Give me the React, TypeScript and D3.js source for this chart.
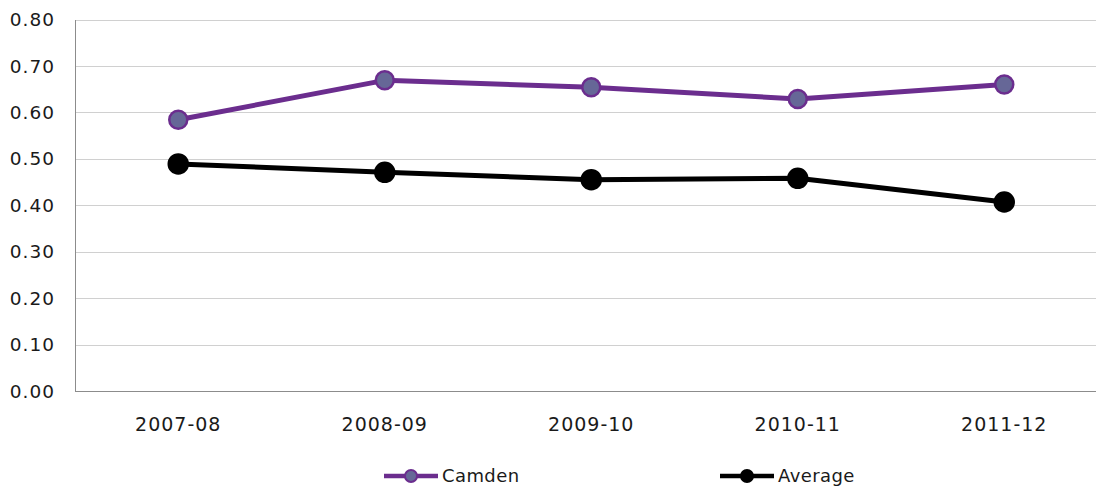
import React, { useRef, useEffect } from "react";
import * as d3 from "d3";

const years = ["2007-08", "2008-09", "2009-10", "2010-11", "2011-12"];
const camden = [0.584, 0.669, 0.654, 0.629, 0.66];
const average = [0.489, 0.471, 0.455, 0.458, 0.407];
const yTicks = [0, 0.1, 0.2, 0.3, 0.4, 0.5, 0.6, 0.7, 0.8];

const seriesList = [
  { name: "Camden", values: camden, stroke: "#6b2d8e", fill: "#666797", r: 9 },
  { name: "Average", values: average, stroke: "#000000", fill: "#000000", r: 9.5 },
];

export default function App() {
  const svgRef = useRef<SVGSVGElement>(null);

  useEffect(() => {
    if (!svgRef.current) return;
    const svg = d3.select(svgRef.current);
    svg.selectAll("*").remove();

    const width = 1096;
    const height = 488;
    const margin = { top: 19.5, left: 75, bottom: 97 };
    const font = "'DejaVu Sans', Verdana, sans-serif";

    // band spans past the right edge, like the original
    const x = d3.scaleBand<string>().domain(years).range([margin.left, 1107.5]);
    const y = d3.scaleLinear().domain([0, 0.8]).range([height - margin.bottom, margin.top]);
    const cx = (d: string) => (x(d) ?? 0) + x.bandwidth() / 2;

    // gridlines
    svg.append("g")
      .selectAll("line")
      .data(yTicks.filter(t => t > 0))
      .join("line")
      .attr("x1", margin.left)
      .attr("x2", width)
      .attr("y1", d => Math.round(y(d)) + 0.5)
      .attr("y2", d => Math.round(y(d)) + 0.5)
      .attr("stroke", "#d0d0d0")
      .attr("stroke-width", 1);

    // axes lines
    const y0 = Math.round(y(0)) + 0.5;
    svg.append("line")
      .attr("x1", margin.left).attr("x2", width)
      .attr("y1", y0).attr("y2", y0)
      .attr("stroke", "#8c8c8c");
    svg.append("line")
      .attr("x1", margin.left + 0.5).attr("x2", margin.left + 0.5)
      .attr("y1", Math.round(y(0.8))).attr("y2", y0)
      .attr("stroke", "#8c8c8c");

    // y tick labels
    svg.append("g")
      .selectAll("text")
      .data(yTicks)
      .join("text")
      .attr("x", 55)
      .attr("y", d => y(d))
      .attr("dy", "0.36em")
      .attr("text-anchor", "end")
      .attr("font-family", font)
      .attr("font-size", 18.5)
      .attr("letter-spacing", 1)
      .attr("fill", "#1a1a1a")
      .text(d => d.toFixed(2));

    // x tick labels
    svg.append("g")
      .selectAll("text")
      .data(years)
      .join("text")
      .attr("x", d => cx(d))
      .attr("y", 431)
      .attr("text-anchor", "middle")
      .attr("font-family", font)
      .attr("font-size", 19)
      .attr("letter-spacing", 1)
      .attr("fill", "#1a1a1a")
      .text(d => d);

    const line = d3.line<number>()
      .x((_, i) => cx(years[i]))
      .y(d => y(d));

    seriesList.forEach(s => {
      svg.append("path")
        .datum(s.values)
        .attr("fill", "none")
        .attr("stroke", s.stroke)
        .attr("stroke-width", 5)
        .attr("stroke-linejoin", "round")
        .attr("d", line);
      svg.append("g")
        .selectAll("circle")
        .data(s.values)
        .join("circle")
        .attr("cx", (_, i) => cx(years[i]))
        .attr("cy", d => y(d))
        .attr("r", s.r)
        .attr("fill", s.fill)
        .attr("stroke", s.stroke)
        .attr("stroke-width", 2.5);
    });

    // legend
    const legendX = [384, 720];
    const ly = 476;
    seriesList.forEach((s, i) => {
      const g = svg.append("g").attr("transform", `translate(${legendX[i]},${ly})`);
      g.append("line")
        .attr("x1", 0).attr("x2", 54)
        .attr("stroke", s.stroke)
        .attr("stroke-width", 4.5);
      g.append("circle")
        .attr("cx", 27)
        .attr("r", 6)
        .attr("fill", s.fill)
        .attr("stroke", s.stroke)
        .attr("stroke-width", 2);
      g.append("text")
        .attr("x", 58)
        .attr("dy", "0.36em")
        .attr("font-family", font)
        .attr("font-size", 18)
        .attr("letter-spacing", 0.4)
        .attr("fill", "#1a1a1a")
        .text(s.name);
    });
  }, []);

  return (
    <svg
      ref={svgRef}
      width={1096}
      height={488}
      style={{ position: "absolute", left: 0, top: 0, overflow: "hidden" }}
    />
  );
}
